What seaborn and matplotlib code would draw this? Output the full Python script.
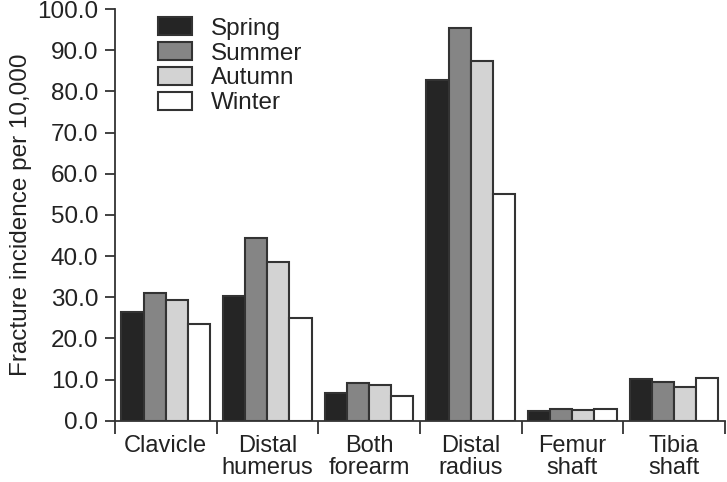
import pandas as pd
import seaborn as sns
import matplotlib.pyplot as plt
import numpy as np

sites = ['Clavicle', 'Distal\nhumerus', 'Both\nforearm', 'Distal\nradius', 'Femur\nshaft', 'Tibia\nshaft']
seasons = ['Spring', 'Summer', 'Autumn', 'Winter']
spring = [26.4, 30.2, 6.7, 82.8, 2.4, 10.1]
summer = [31.0, 44.5, 9.3, 95.4, 2.8, 9.5]
autumn = [29.4, 38.6, 8.8, 87.3, 2.5, 8.3]
winter = [23.6, 24.9, 6.0, 55.1, 2.8, 10.3]
colors = ['#252525', '#858585', '#d3d3d3', '#ffffff']

df = pd.DataFrame({'Site': sites * 4,
                   'Season': np.repeat(seasons, len(sites)),
                   'Incidence': spring + summer + autumn + winter})

sns.set_style('ticks')
plt.rcParams['font.family'] = ['Liberation Sans', 'DejaVu Sans']
fs = 17.5

fig = plt.figure(figsize=(7.27, 4.82), dpi=100)
ax = fig.add_axes([0.158, 0.127, 0.839, 0.854])
sns.barplot(data=df, x='Site', y='Incidence', hue='Season', palette=colors,
            width=0.87, gap=0, edgecolor='#333333', linewidth=1.5, ax=ax, saturation=1)

ax.set_ylim(0, 100)
ax.set_xlim(-0.5, 5.5)
ax.set_yticks(np.arange(0, 101, 10))
ax.set_yticklabels([f'{v:.1f}' for v in np.arange(0, 101, 10)], fontsize=fs, color='#222222')
ax.set_xticks(range(len(sites)))
ax.set_xticklabels(sites, fontsize=17, color='#222222', linespacing=1.0)
ax.set_xticks(np.arange(-0.5, 6, 1), minor=True)
ax.tick_params(axis='x', which='major', length=0, pad=10)
ax.tick_params(axis='x', which='minor', length=9, width=1.3, color='#333333', direction='out')
ax.tick_params(axis='y', length=7, width=1.3, color='#333333', pad=5)
ax.set_xlabel('')
ax.set_ylabel('Fracture incidence per 10,000', fontsize=fs, color='#222222', labelpad=4)
sns.despine(ax=ax)
for s in ['left', 'bottom']:
    ax.spines[s].set_linewidth(1.3)
    ax.spines[s].set_color('#333333')

leg = ax.legend(loc='upper left', bbox_to_anchor=(0.07, 0.98), frameon=False, fontsize=fs,
                borderpad=0, borderaxespad=0,
                handlelength=1.4, handleheight=0.75, labelspacing=0.1, handletextpad=0.8)
for t in leg.get_texts():
    t.set_color('#222222')

plt.savefig('out.png', dpi=100)
